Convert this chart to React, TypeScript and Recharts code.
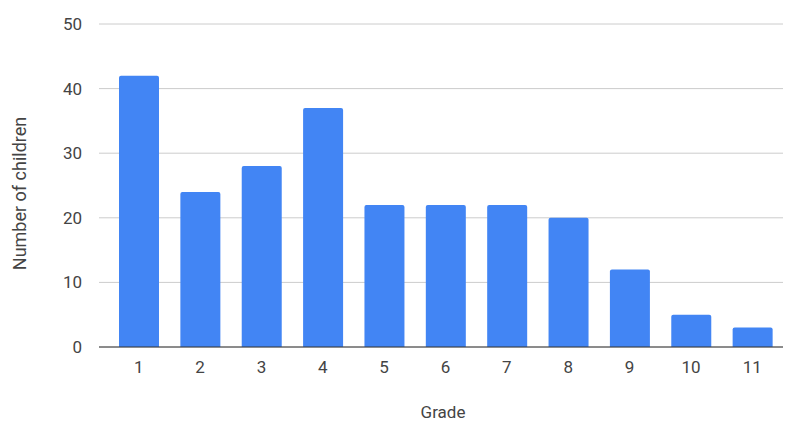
import React from 'react';
import { BarChart, Bar, XAxis, YAxis, CartesianGrid, Label } from 'recharts';

const grades = ['1', '2', '3', '4', '5', '6', '7', '8', '9', '10', '11'];
const children = [42, 24, 28, 37, 22, 22, 22, 20, 12, 5, 3];
const yTicks = [0, 10, 20, 30, 40, 50];

const data = grades.map((g, i) => ({ grade: g, children: children[i] }));

const font = 'Roboto, "Noto Sans", sans-serif';
const textColor = '#444444';

export default function App() {
  return (
    <div style={{ position: 'absolute', left: 0, top: 0, background: '#fff' }}>
      <BarChart
        width={787}
        height={421}
        data={data}
        margin={{ top: 24, right: 4, bottom: 44, left: 39 }}
        barSize={40}
      >
        <CartesianGrid vertical={false} stroke="#cccccc" />
        <XAxis
          dataKey="grade"
          height={30}
          padding={{ left: 9, right: 0 }}
          tickLine={false}
          axisLine={{ stroke: '#333333' }}
          tick={{ fill: textColor, fontSize: 17, fontFamily: font }}
          tickMargin={8}
        >
          <Label value="Grade" position="bottom" offset={29} dx={2} style={{ fill: textColor, fontSize: 17, fontFamily: font }} />
        </XAxis>
        <YAxis
          width={60}
          domain={[0, 50]}
          ticks={yTicks}
          tickLine={false}
          axisLine={false}
          tick={{ fill: textColor, fontSize: 17, fontFamily: font }}
          tickMargin={11}
        >
          <Label
            content={(props: any) => {
              const vb = props.viewBox || {};
              const cx = 19;
              const cy = (vb.y ?? 24) + (vb.height ?? 323) / 2 + 8;
              return (
                <text
                  x={cx}
                  y={cy}
                  transform={`rotate(-90 ${cx} ${cy})`}
                  textAnchor="middle"
                  dominantBaseline="central"
                  fill={textColor}
                  fontSize={18}
                  fontFamily={font}
                >
                  Number of children
                </text>
              );
            }}
          />
        </YAxis>
        <Bar dataKey="children" fill="#4285f4" radius={[2, 2, 0, 0]} isAnimationActive={false} />
      </BarChart>
    </div>
  );
}
